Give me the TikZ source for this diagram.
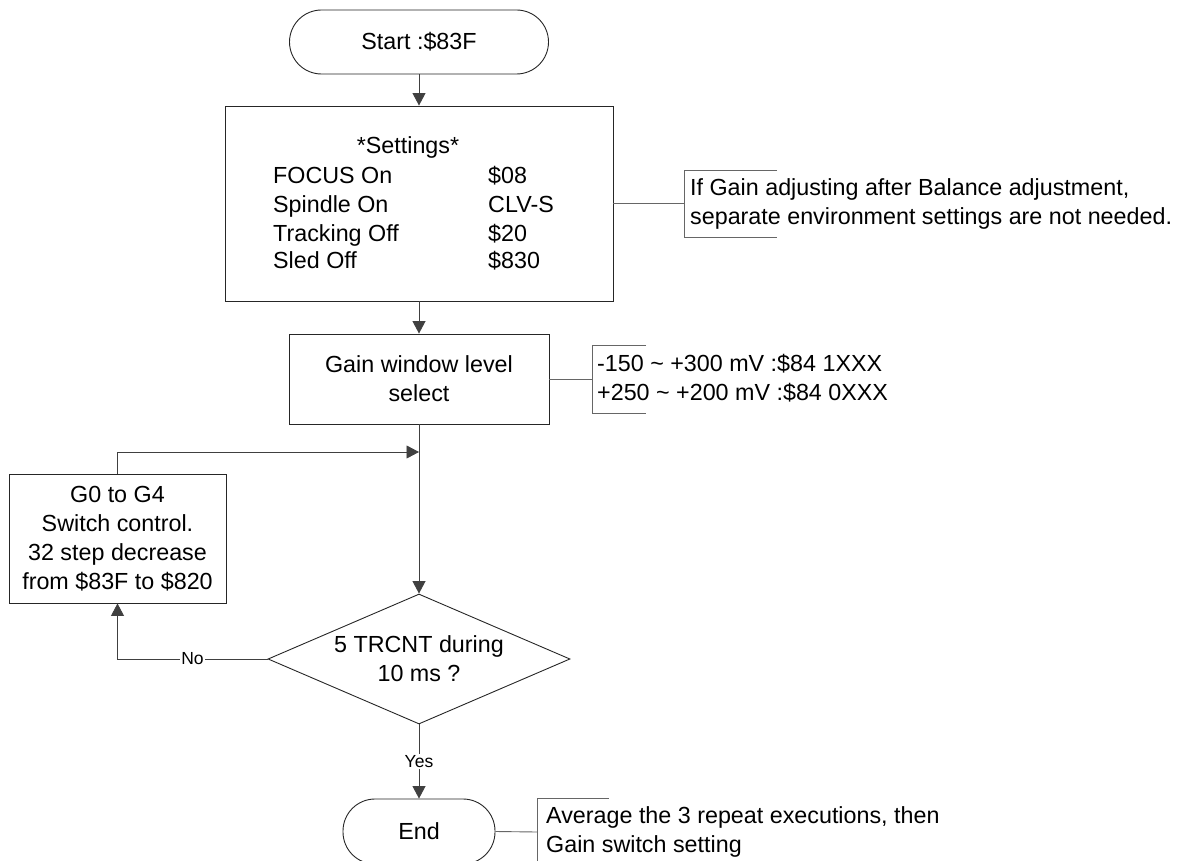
\documentclass[tikz,border=0pt]{standalone}
\usepackage{fontspec}
\setmainfont{Liberation Sans}
\usetikzlibrary{arrows.meta,shapes.geometric}
\begin{document}
\begin{tikzpicture}[x=1pt,y=-1pt,
  every node/.style={font=\fontsize{23.3}{29}\selectfont, text=black},
  box/.style={draw=black!85, line width=0.9pt, rectangle, inner sep=0pt, align=center},
  term/.style={box, rounded corners=32pt},
  decision/.style={draw=black!85, line width=0.9pt, diamond, aspect=2.32, inner sep=0pt, align=center, minimum width=302pt, minimum height=130pt},
  flow/.style={draw=black!75, line width=0.9pt, -{Triangle[length=12.5pt,width=13pt]}},
  link/.style={draw=black!60, line width=0.9pt},
  lbl/.style={font=\fontsize{17.5}{21}\selectfont, fill=white, inner sep=1.5pt},
  note/.style={anchor=west, align=left, inner sep=0pt},
  txt/.style={anchor=base west, inner sep=0pt}
]
\useasboundingbox (0,0) rectangle (1177,861);

% main nodes
\node[term, minimum width=259pt, minimum height=64pt] (start) at (419,42) {Start :\$83F};
\node[box, minimum width=388pt, minimum height=195pt] (settings) at (419,203.5) {};
\node[anchor=base, inner sep=0pt] (sethead) at (408,153.3) {*Settings*};
\node[txt] (s1a) at (273,183) {FOCUS On};
\node[txt] (s2a) at (273,212.3) {Spindle On};
\node[txt] (s3a) at (273,241.5) {Tracking Off};
\node[txt] (s4a) at (273,268.7) {Sled Off};
\node[txt] (s1b) at (488,183) {\$08};
\node[txt] (s2b) at (488,212.3) {CLV-S};
\node[txt] (s3b) at (488,241.5) {\$20};
\node[txt] (s4b) at (488,268.7) {\$830};

\node[box, minimum width=260pt, minimum height=90pt] (gain) at (419,379) {Gain window level\\select};
\coordinate (merge) at (419,452);
\node[box, minimum width=217pt, minimum height=129pt] (loop) at (117.5,538.5) {G0 to G4\\Switch control.\\32 step decrease\\from \$83F to \$820};
\node[decision] (test) at (419,659) {5 TRCNT during\\10 ms ?};
\node[term, minimum width=152pt, minimum height=65pt] (end) at (419,831.5) {End};

% flow connectors
\draw[flow] (start) -- (settings);
\draw[flow] (settings) -- (gain);
\draw[flow] (gain) -- (test);
\draw[flow] (loop.north) |- (merge);
\draw[flow] (test.west) -| node[lbl, pos=0.25] (nolbl) {No} (loop.south);
\draw[flow] (test.south) -- node[lbl] (yeslbl) {Yes} (end.north);

% annotations
\coordinate (b1) at (684,203.5);
\draw[link] (settings.east) -- (b1);
\draw[link] (777,170) -- (684,170) -- (684,237) -- (777,237);
\node[note] (n1) at (690,203.5) {If Gain adjusting after Balance adjustment,\\separate environment settings are not needed.};

\coordinate (b2) at (592,379);
\draw[link] (gain.east) -- (b2);
\draw[link] (646,345) -- (592,345) -- (592,413) -- (646,413);
\node[note] (n2) at (597,378) {-150 \textasciitilde{} +300 mV :\$84 1XXX\\+250 \textasciitilde{} +200 mV :\$84 0XXX};

\coordinate (b3) at (537,832);
\draw[link] (end.east) -- (b3);
\draw[link] (609,798) -- (537,798) -- (537,870);
\node[note] (n3) at (546,832) {Average the 3 repeat executions, then\\Gain switch setting};
\end{tikzpicture}
\end{document}
